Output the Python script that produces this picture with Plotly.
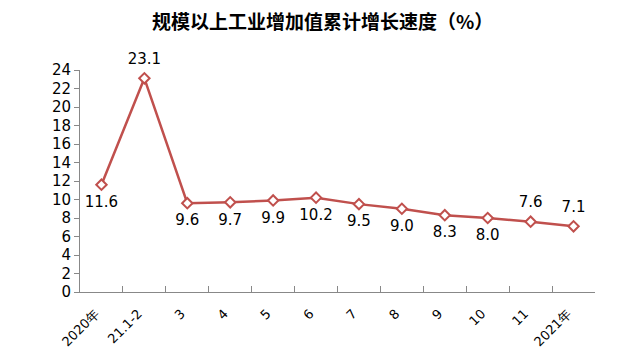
import plotly.graph_objects as go

categories = ["2020年", "21.1-2", "3", "4", "5", "6", "7", "8", "9", "10", "11", "2021年"]
values = [11.6, 23.1, 9.6, 9.7, 9.9, 10.2, 9.5, 9.0, 8.3, 8.0, 7.6, 7.1]
label_pos = ["bottom center", "top center", "bottom center", "bottom center", "bottom center",
             "bottom center", "bottom center", "bottom center", "bottom center", "bottom center",
             "top center", "top center"]
y_ticks = list(range(0, 25, 2))

fig = go.Figure()
fig.add_trace(go.Scatter(
    x=categories, y=values,
    mode="lines+markers",
    line=dict(color="#C0504D", width=2.5),
    marker=dict(symbol="diamond", size=8, color="#FFFFFF",
                line=dict(color="#C0504D", width=2)),
    cliponaxis=False,
    showlegend=False,
    hoverinfo="skip",
))
fig.add_trace(go.Scatter(
    x=categories, y=values,
    mode="markers+text",
    text=[f"{v:.1f}" for v in values],
    textposition=label_pos,
    textfont=dict(family="DejaVu Sans", size=15, color="#000000"),
    marker=dict(size=16, opacity=0),
    cliponaxis=False,
    showlegend=False,
))

fig.update_layout(
    width=611, height=353, autosize=False,
    margin=dict(l=72, r=24, t=62, b=69, autoexpand=False),
    paper_bgcolor="#FFFFFF", plot_bgcolor="#FFFFFF",
    title=dict(text="<b>规模以上工业增加值累计增长速度（%）</b>",
               x=0.515, xanchor="center", y=1 - 14 / 353, yanchor="middle",
               font=dict(family="Noto Sans CJK SC", size=19, color="#000000")),
    xaxis=dict(type="category", showgrid=False, showline=True, linecolor="#888888", linewidth=1,
               ticks="inside", ticklen=6, tickcolor="#888888", tickson="boundaries",
               tickangle=-45, tickfont=dict(family="DejaVu Sans", size=13, color="#000000"),
               ticklabelstandoff=8, ticklabelshift=-6,
               range=[-0.5, 11.5], automargin=False),
    yaxis=dict(range=[0, 24], tickvals=y_ticks, showgrid=False, showline=True,
               linecolor="#888888", linewidth=1, ticks="outside", ticklen=5,
               tickcolor="#888888", zeroline=False, automargin=False,
               tickfont=dict(family="DejaVu Sans", size=15, color="#000000")),
)

fig.write_html("out.html")
